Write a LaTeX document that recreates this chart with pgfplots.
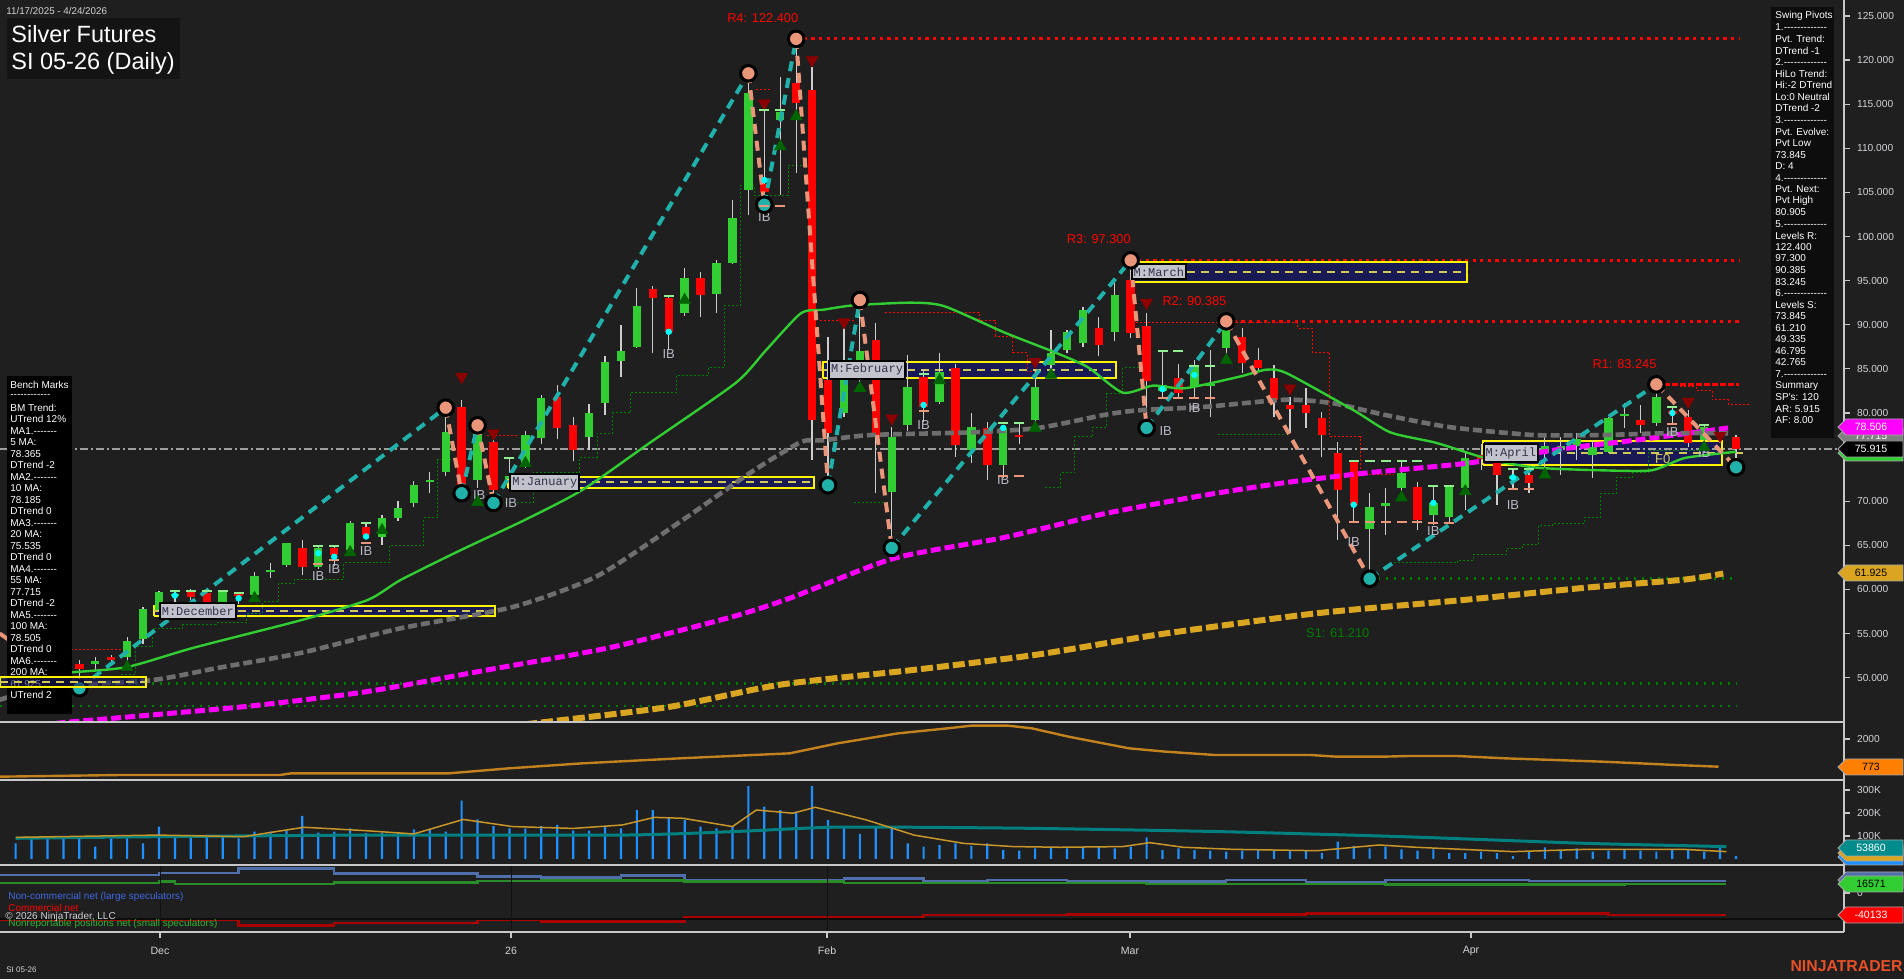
\documentclass[border=0pt]{standalone}
\usepackage{fontspec}
\setmainfont{Liberation Sans}[Ligatures=TeXOff]
\setmonofont{Liberation Mono}
\usepackage{pgfplots}
\pgfplotsset{compat=1.18}
\usepackage{pgfplotstable}

\definecolor{bg}{RGB}{31,31,31}
\definecolor{upc}{RGB}{50,205,50}
\definecolor{dnc}{RGB}{255,0,0}
\definecolor{wick}{RGB}{205,205,205}
\definecolor{ma20}{RGB}{50,205,50}
\definecolor{ma55}{RGB}{110,110,110}
\definecolor{ma100}{RGB}{255,0,255}
\definecolor{ma200}{RGB}{218,165,32}
\definecolor{pcyan}{RGB}{32,178,170}
\definecolor{psal}{RGB}{233,150,122}
\definecolor{rline}{RGB}{255,0,0}
\definecolor{sline}{RGB}{0,128,0}
\definecolor{boxfill}{RGB}{25,25,85}
\definecolor{boxdash}{RGB}{210,200,90}
\definecolor{tridn}{RGB}{139,0,0}
\definecolor{triup}{RGB}{0,100,0}
\definecolor{axisc}{RGB}{200,200,200}
\definecolor{txt}{RGB}{210,210,215}
\definecolor{ibc}{RGB}{185,185,200}
\definecolor{volc}{RGB}{30,144,255}
\definecolor{vavg}{RGB}{200,150,40}
\definecolor{tealv}{RGB}{0,128,128}
\definecolor{p2c}{RGB}{195,130,30}
\definecolor{cotb}{RGB}{80,110,170}
\definecolor{cotg}{RGB}{40,140,40}
\definecolor{cotr}{RGB}{170,0,0}
\definecolor{lgd}{RGB}{144,238,144}
\definecolor{lbl}{RGB}{195,195,205}
\definecolor{lbltxt}{RGB}{50,50,75}
\definecolor{cdot}{RGB}{0,255,255}
\definecolor{tagteal}{RGB}{0,140,140}

\pgfplotstableread{
i o h l c
2 49.6 50.5 49.0 50.2
3 50.2 51.0 49.5 50.8
5 51.6 52.3 50.9 51.7
7 52.3 54.6 51.5 54.2
8 54.4 58.0 53.8 57.8
9 57.7 59.8 57.5 59.7
10 59.2 59.9 58.4 59.4
13 58.0 59.9 57.8 59.7
15 59.4 62.0 59.0 61.5
16 62.0 63.0 61.3 62.1
17 62.8 65.3 62.5 65.3
19 62.5 64.9 62.3 64.7
21 64.5 67.8 64.3 67.5
23 65.9 68.4 65.0 68.1
24 68.1 70.0 67.8 69.2
25 69.8 72.3 69.3 71.8
26 72.2 73.3 70.9 72.4
27 73.3 80.6 72.8 77.8
29 72.4 78.6 71.5 77.7
31 72.5 74.9 71.3 72.8
32 74.3 78.0 73.8 77.5
33 77.2 82.0 76.5 81.7
36 77.3 81.0 75.8 80.0
37 81.1 86.5 79.8 85.8
38 85.9 90.0 84.1 87.0
39 87.5 94.2 87.4 92.1
42 91.3 96.4 91.0 95.3
44 93.5 97.3 91.3 97.0
45 97.0 104.1 96.9 102.1
46 105.3 118.5 102.4 116.3
48 113.2 118.1 104.7 114.1
52 80.0 89.8 79.5 83.7
53 84.0 92.8 83.0 87.0
55 71.0 78.4 64.7 77.3
56 78.6 86.6 78.0 82.9
58 81.2 86.8 81.0 84.6
60 75.8 80.0 74.3 78.4
62 74.1 78.5 72.6 78.3
64 79.2 84.9 78.0 82.9
65 85.4 89.4 84.1 86.8
66 87.1 89.4 86.8 89.2
67 87.9 92.0 87.5 91.7
69 89.2 94.7 88.1 93.4
72 82.5 86.9 81.8 83.2
74 82.9 86.0 81.8 85.2
75 83.0 87.1 79.5 83.2
76 87.4 90.4 86.5 90.0
85 66.9 70.9 61.2 69.3
86 69.5 71.5 66.2 69.7
87 71.5 74.7 70.9 73.2
89 68.4 71.8 67.3 69.8
90 68.2 71.8 67.5 71.6
91 71.5 75.6 69.0 74.9
94 72.5 73.5 71.3 72.8
96 75.5 77.3 73.5 76.2
97 76.0 77.3 73.0 76.2
98 76.3 77.7 74.7 77.0
99 75.2 76.9 72.6 76.1
100 75.6 79.5 75.5 79.4
101 79.6 81.1 78.3 79.9
103 78.9 83.2 78.5 81.8
106 76.9 78.7 75.5 78.4
}\upbars

\pgfplotstableread{
i o h l c
0 50.5 51.2 49.8 50.2
1 50.2 50.8 49.3 49.6
4 51.5 52.0 49.3 51.0
6 52.3 52.6 51.8 52.0
11 59.7 60.0 58.8 59.1
12 59.6 59.9 57.5 58.0
14 59.3 59.6 58.3 59.2
18 64.7 65.6 61.6 62.5
20 64.7 64.9 62.6 63.9
22 67.1 67.4 65.7 66.2
28 80.7 81.5 70.9 71.8
30 76.7 77.3 69.8 71.3
34 81.8 83.2 77.0 78.3
35 78.6 79.5 74.5 75.8
40 94.1 94.4 86.8 93.0
41 93.0 93.4 87.1 89.2
43 95.3 96.0 90.9 93.4
47 106.0 114.3 103.6 105.0
49 117.4 122.4 107.2 115.1
50 116.6 119.2 74.7 79.2
51 83.7 88.6 71.8 77.7
54 88.3 90.2 70.9 77.3
57 84.1 85.0 79.0 80.7
59 85.1 85.5 75.0 76.4
61 78.3 79.0 72.4 74.1
63 77.5 79.0 76.5 77.3
68 89.6 90.9 86.4 87.7
70 95.1 97.3 88.5 89.1
71 89.8 91.3 78.3 83.6
73 84.0 85.5 81.8 82.3
77 88.6 89.6 84.5 85.7
78 86.0 87.4 84.7 85.1
79 84.0 85.4 79.5 81.5
80 80.9 81.8 77.7 80.4
81 80.9 82.8 78.3 80.0
82 79.4 80.1 75.0 77.5
83 75.5 76.7 65.6 71.3
84 74.4 74.7 67.6 69.6
88 71.6 72.2 66.7 67.9
92 75.2 76.5 73.5 74.8
93 75.5 76.1 69.6 73.0
95 73.0 73.8 70.9 72.1
102 79.2 80.9 77.7 78.6
104 80.2 80.7 78.6 79.9
105 79.5 80.3 76.1 76.6
107 77.5 78.4 76.6 77.3
108 77.3 77.5 73.8 75.9
}\dnbars

\pgfplotstableread{
i v
0 68
1 90
2 94
3 90
4 97
5 54
6 90
7 94
8 68
9 141
10 97
11 104
12 97
13 97
14 90
15 119
16 119
17 123
18 187
19 115
20 119
21 133
22 112
23 115
24 112
25 129
26 126
27 119
28 254
29 172
30 143
31 133
32 133
33 143
34 148
35 123
36 123
37 141
38 133
39 213
40 213
41 181
42 170
43 141
44 133
45 141
46 317
47 228
48 213
49 206
50 317
51 170
52 141
53 109
54 141
55 141
56 68
57 54
58 61
59 68
60 57
61 68
62 39
63 36
64 46
65 54
66 46
67 54
68 54
69 46
70 54
71 94
72 39
73 46
74 39
75 36
76 32
77 36
78 39
79 36
80 36
81 39
82 27
83 75
84 57
85 46
86 54
87 42
88 36
89 42
90 25
91 25
92 32
93 25
94 13
95 32
96 51
97 36
98 46
99 32
100 36
101 39
102 36
103 32
104 39
105 42
106 32
107 54
108 13
}\vol

\pgfplotsset{
 panel/.style={scale only axis, width=922pt, anchor=south west, xmin=-0.98, xmax=114.78,
   axis x line=none, axis y line*=right, tick align=outside, major tick length=3pt,
   axis line style={draw=axisc, line width=0.6pt},
   tick style={draw=axisc, line width=0.6pt},
   yticklabel style={font=\fontsize{5.1}{6}\selectfont, text=txt},
   /pgf/number format/assume math mode=true, clip=true, scaled y ticks=false},
 sdot/.style={sline, line width=1.35pt, dash pattern=on 1.35pt off 2.65pt},
 rdot/.style={rline, line width=1.6pt, dash pattern=on 1.6pt off 2.2pt},
 trailg/.style={sline, line width=0.5pt, dash pattern=on 1pt off 1pt, const plot},
 trailr/.style={rline, line width=0.5pt, dash pattern=on 1pt off 1pt, const plot},
 mbox/.style={fill=boxfill, draw=yellow, line width=1pt},
 mdash/.style={boxdash, line width=1pt, dash pattern=on 4pt off 3pt},
 zzc/.style={pcyan, line width=2pt, dash pattern=on 5pt off 3.5pt},
 zzs/.style={psal, line width=2pt, dash pattern=on 5pt off 3.5pt},
 nomark/.style={only marks, mark=*, mark size=0pt, mark options={draw=none, fill=none}},
}
\tikzset{
 boxlabel/.style={fill=lbl, draw=black, line width=1pt, font=\ttfamily\fontsize{6}{6}\selectfont, text=lbltxt, inner xsep=1pt, inner ysep=1.6pt, anchor=west},
 iblab/.style={text=ibc, font=\fontsize{6.5}{7}\selectfont, inner sep=0pt},
 rlab/.style={text=rline, font=\fontsize{6.4}{7}\selectfont, inner sep=0pt},
}
\newcommand{\vtag}[4]{\filldraw[fill=#2, draw=gray!70, line width=0.4pt] (1838,#1) -- (1846,{#1-8}) -- (1903,{#1-8}) -- (1903,{#1+8}) -- (1846,{#1+8}) -- cycle;
 \node[text=#3, font=\fontsize{5.3}{6}\selectfont, inner sep=0pt] at (1871,#1) {#4};}

\begin{document}
\begin{tikzpicture}
\fill[bg] (0,0) rectangle (952pt,489.5pt);

% ================= MAIN PRICE PANEL =================
\begin{axis}[panel, at={(0pt,128.5pt)}, height=361pt, ymin=44.97, ymax=126.81,
  ytick={50,55,...,125},
  yticklabel style={/pgf/number format/fixed,/pgf/number format/fixed zerofill,/pgf/number format/precision=3}]

% support / resistance levels
\addplot[sdot] coordinates {(-1,49.335) (108,49.335)};
\addplot[sdot] coordinates {(-1,46.795) (108,46.795)};
\addplot[sdot] coordinates {(85,61.21) (108,61.21)};
\addplot[rdot] coordinates {(49,122.4) (108.2,122.4)};
\addplot[rdot] coordinates {(70,97.3) (108.2,97.3)};
\addplot[rdot] coordinates {(76,90.385) (108.2,90.385)};
\addplot[rline, line width=1.2pt, dash pattern=on 3pt off 1pt] coordinates {(103,83.245) (108.2,83.245)};

% monthly boxes
\addplot[mbox] coordinates {(8.7,56.99) (30.1,56.99) (30.1,58.12) (8.7,58.12) (8.7,56.99)};
\addplot[mdash] coordinates {(8.7,57.55) (30.1,57.55)};
\addplot[mbox] coordinates {(30.9,71.5) (50.1,71.5) (50.1,72.74) (30.9,72.74) (30.9,71.5)};
\addplot[mdash] coordinates {(30.9,72.12) (50.1,72.12)};
\addplot[mbox] coordinates {(50.7,83.97) (69.1,83.97) (69.1,85.8) (50.7,85.8) (50.7,83.97)};
\addplot[mdash] coordinates {(50.7,84.9) (69.1,84.9)};
\addplot[mbox] coordinates {(70.0,94.85) (91.1,94.85) (91.1,97.1) (70.0,97.1) (70.0,94.85)};
\addplot[mdash] coordinates {(70.0,96.0) (91.1,96.0)};
\addplot[mbox] coordinates {(92.1,74.1) (107.1,74.1) (107.1,76.8) (92.1,76.8) (92.1,74.1)};
\addplot[mdash] coordinates {(92.1,75.45) (108.5,75.45)};

% last price line
\addplot[gray!75, line width=0.75pt, dash pattern=on 4pt off 1.5pt on 1pt off 1.5pt] coordinates {(-1,75.915) (115,75.915)};

% trailing stops
\addplot[trailg] coordinates {(6.6,50.3) (7.5,53.5) (8.6,55.6) (10.5,56.0) (12.6,56.2) (14.5,57.3) (15.5,58.6) (16.5,60.7) (17.5,61.1) (20.6,63.0) (22.6,63.1) (23.5,65.0) (25.6,68.1) (26.5,74.7) (27.5,74.7)};
\addplot[trailg] coordinates {(30.7,69.9) (32.5,73.2) (35.4,75.0) (36.5,77.7) (37.5,80.0) (38.6,82.3) (41.5,84.3) (43.5,85.2) (44.5,92.2) (45.5,105.8) (46.4,104.7) (48.5,108.1) (49.7,108.1)};
\addplot[trailg] coordinates {(52.6,69.9) (54.8,69.9)};
\addplot[trailg] coordinates {(64.6,71.5) (65.6,73.2) (66.5,77.3) (67.6,78.4) (68.5,82.2) (69.5,85.1) (70.5,85.1)};
\addplot[trailg] coordinates {(75.5,77.6) (79.6,77.6)};
\addplot[trailg] coordinates {(86.5,63.0) (90.5,63.3) (91.5,64.0) (93.6,64.6) (94.6,65.1) (95.6,67.2) (96.5,67.5) (98.5,68.2) (99.5,70.9) (100.5,72.7) (101.5,73.2) (102.5,75.8) (105.7,75.8)};
\addplot[trailr] coordinates {(3.5,53.2) (7.0,53.2)};
\addplot[trailr] coordinates {(29.6,77.4) (31.5,77.4)};
\addplot[trailr] coordinates {(46.5,116.7) (47.5,116.7)};
\addplot[trailr] coordinates {(50.5,90.5) (52.6,90.5)};
\addplot[trailr] coordinates {(54.6,91.4) (60.5,90.5) (61.5,88.7) (62.6,86.8) (63.5,84.7) (64.3,84.7)};
\addplot[trailr] coordinates {(70.1,90.2) (80.5,89.6) (81.4,86.9) (82.5,77.3) (84.4,73.0) (86.5,73.0)};
\addplot[trailr] coordinates {(104.5,83.0) (105.5,82.6) (106.5,81.5) (107.5,81.0) (108.8,81.0)};

% candles: wicks
\addplot[nomark, error bars/.cd, y dir=plus, y explicit, error mark=none,
  error bar style={draw=wick, line width=0.6pt}] table[x=i, y=l, y error plus expr=\thisrow{h}-\thisrow{l}] {\upbars};
\addplot[nomark, error bars/.cd, y dir=plus, y explicit, error mark=none,
  error bar style={draw=wick, line width=0.6pt}] table[x=i, y=l, y error plus expr=\thisrow{h}-\thisrow{l}] {\dnbars};
% candles: bodies
\addplot[nomark, error bars/.cd, y dir=plus, y explicit, error mark=none,
  error bar style={draw=upc, line width=4.2pt}] table[x=i, y=o, y error plus expr={max(\thisrow{c}-\thisrow{o},0.25)}] {\upbars};
\addplot[nomark, error bars/.cd, y dir=plus, y explicit, error mark=none,
  error bar style={draw=dnc, line width=4.2pt}] table[x=i, y=c, y error plus expr={max(\thisrow{o}-\thisrow{c},0.25)}] {\dnbars};

% moving averages
\addplot[ma200, line width=3pt, dash pattern=on 6pt off 2pt, smooth, tension=0.4] coordinates {(25,43.3) (33.4,45.0) (41.1,46.7) (48,49.2) (56.5,50.9) (64.1,52.6) (71.8,54.9) (81.7,57.3) (90.9,58.8) (98.6,60.2) (104.7,61.1) (107.2,61.8)};
\addplot[ma100, line width=2.5pt, dash pattern=on 5pt off 2pt, smooth, tension=0.4] coordinates {(-1,44.2) (3.6,45.0) (14.3,46.7) (22,48.4) (29.7,50.9) (37.3,53.4) (44.8,56.8) (48.6,59.0) (55.1,63.5) (62.1,65.9) (68.4,68.6) (74.7,70.7) (79.7,72.1) (84.8,73.2) (91.1,74.3) (97.4,76.0) (101.6,76.9) (107.5,78.3)};
\addplot[ma55, line width=2.3pt, dash pattern=on 4.5pt off 2pt, smooth, tension=0.4] coordinates {(-1,47.5) (2.4,49.0) (8.5,49.7) (12.7,51.1) (17.9,52.8) (24.2,55.6) (31.2,58.0) (36.5,61.5) (41.9,67.9) (46.1,73.2) (49.3,76.7) (50.7,76.9) (53.7,77.5) (60,77.8) (64.2,78.3) (68.4,79.8) (70.5,80.3) (74.7,80.7) (79.7,81.5) (82.7,81.1) (85.9,79.8) (90,78.4) (95.3,77.5) (99.5,77.5) (103.7,77.7) (107.5,77.7)};
\addplot[ma20, line width=1.2pt, smooth, tension=0.4] coordinates {(-1,50.0) (3.5,50.6) (7,51.2) (11.2,53.4) (17.9,56.5) (22.1,58.8) (24.2,61.1) (28,64.5) (32,67.9) (35.6,71.3) (39.8,76.6) (45.2,83.4) (47.1,87.1) (49.3,91.3) (50.7,91.7) (52.6,92.2) (56.2,92.5) (58.3,92.1) (62.1,89.1) (65.2,86.9) (67.3,85.2) (69.5,82.3) (71.4,83.1) (73.4,82.8) (76.8,84.1) (78.5,84.9) (79.8,84.5) (84,80.3) (86.3,77.8) (89.2,76.6) (92.6,74.7) (95.5,73.8) (99.5,73.5) (102.7,73.5) (104.8,74.9) (108,75.6)};

% swing pivot zigzag
\addplot[zzs] coordinates {(-1,55.0) (4,48.8)};
\addplot[zzc] coordinates {(4,48.8) (27,80.6)};
\addplot[zzs] coordinates {(27,80.6) (28,70.9)};
\addplot[zzc] coordinates {(28,70.9) (29,78.6)};
\addplot[zzs] coordinates {(29,78.6) (30,69.8)};
\addplot[zzc] coordinates {(30,69.8) (46,118.5)};
\addplot[zzs] coordinates {(46,118.5) (47,103.6)};
\addplot[zzc] coordinates {(47,103.6) (49,122.4)};
\addplot[zzs] coordinates {(49,122.4) (51,71.8)};
\addplot[zzc] coordinates {(51,71.8) (53,92.8)};
\addplot[zzs] coordinates {(53,92.8) (55,64.7)};
\addplot[zzc] coordinates {(55,64.7) (70,97.3)};
\addplot[zzs] coordinates {(70,97.3) (71,78.3)};
\addplot[zzc] coordinates {(71,78.3) (76,90.385)};
\addplot[zzs] coordinates {(76,90.385) (85,61.21)};
\addplot[zzc] coordinates {(85,61.21) (103,83.245)};
\addplot[zzs] coordinates {(103,83.245) (108,73.845)};

% pivot circles
\addplot[only marks, mark=*, mark size=3.9pt, mark options={fill=psal, draw=black, line width=1.5pt}] coordinates {(27,80.6) (29,78.6) (46,118.5) (49,122.4) (53,92.8) (70,97.3) (76,90.385) (103,83.245)};
\addplot[only marks, mark=*, mark size=3.9pt, mark options={fill=pcyan, draw=black, line width=1.5pt}] coordinates {(4,48.8) (28,70.9) (30,69.8) (47,103.6) (51,71.8) (55,64.7) (71,78.3) (85,61.21) (108,73.845)};

% signal triangles
\addplot[only marks, mark=triangle*, mark size=3.3pt, mark options={fill=tridn, draw=tridn, rotate=180}] coordinates {(28,84.1) (30,77.7) (47,115.1) (50,120.0) (52,90.3) (55,79.4) (64,85.8) (71,92.5) (80,82.8) (105,81.3) (107,77.4)};
\addplot[only marks, mark=triangle*, mark size=3.3pt, mark options={fill=triup, draw=triup}] coordinates {(7,51.2) (15,59.0) (21,64.2) (23,66.7) (29,69.9) (32,74.3) (42,92.8) (48,110.2) (49,113.6) (53,82.8) (58,83.7) (64,78.3) (65,84.3) (76,86.0) (87,70.4) (91,71.1) (96,73.0) (106,76.1)};

% inside-bar markers
\addplot[only marks, mark=-, mark size=2.5pt, mark options={draw=lgd, line width=1pt}] coordinates {(10,59.8) (11,59.8) (12,59.8) (13,59.8) (14,59.6) (19,64.9) (20,64.9) (22,67.5) (31,74.9) (41,93.3) (47,114.3) (48,114.3) (57,84.4) (62,78.9) (63,78.9) (72,87.0) (73,87.0) (74,85.3) (75,85.3) (84,74.5) (85,74.5) (86,74.5) (87,74.5) (88,74.5) (89,71.7) (90,71.7) (94,73.6) (95,73.6) (104,80.7) (106,78.6)};
\addplot[only marks, mark=-, mark size=2.5pt, mark options={draw=psal, line width=1pt}] coordinates {(19,62.9) (20,63.3) (22,65.3) (47,103.5) (48,103.5) (57,80.2) (62,72.9) (63,72.9) (72,81.7) (73,81.7) (74,81.7) (75,81.7) (84,67.6) (85,67.6) (86,67.6) (87,67.6) (88,67.6) (89,67.5) (90,67.5) (94,71.4) (95,71.4) (104,78.7)};
\addplot[only marks, mark=*, mark size=1.4pt, mark options={fill=cdot, draw=cdot}] coordinates {(10,59.3) (14,59.0) (19,64.1) (20,63.7) (22,66.0) (41,89.2) (47,106.4) (57,80.9) (62,78.3) (72,82.7) (74,84.3) (84,69.6) (89,69.8) (94,72.7) (104,80.0)};

% labels
\node[rlab] at (axis cs:46.9,124.8) {R4: 122.400};
\node[rlab] at (axis cs:68.0,99.7) {R3: 97.300};
\node[rlab] at (axis cs:74.0,92.7) {R2: 90.385};
\node[rlab] at (axis cs:101.0,85.55) {R1: 83.245};
\node[rlab, text=sline] at (axis cs:83.0,55.06) {S1: 61.210};
\node[boxlabel] at (axis cs:8.99,57.55) {M:December};
\node[boxlabel] at (axis cs:31.0,72.12) {M:January};
\node[boxlabel] at (axis cs:51.0,84.9) {M:February};
\node[boxlabel] at (axis cs:70.0,96.0) {M:March};
\node[boxlabel] at (axis cs:92.1,75.45) {M:April};
\node[iblab, text=boxdash] at (axis cs:103.4,74.8) {F0};
\node[iblab] at (axis cs:19,61.5) {IB};
\node[iblab] at (axis cs:20,62.3) {IB};
\node[iblab] at (axis cs:22,64.3) {IB};
\node[iblab] at (axis cs:29.1,70.7) {IB};
\node[iblab] at (axis cs:31.1,69.8) {IB};
\node[iblab] at (axis cs:41,86.7) {IB};
\node[iblab] at (axis cs:47,102.2) {IB};
\node[iblab] at (axis cs:57,78.6) {IB};
\node[iblab] at (axis cs:62,72.4) {IB};
\node[iblab] at (axis cs:72.2,78.0) {IB};
\node[iblab] at (axis cs:74,80.6) {IB};
\node[iblab] at (axis cs:84,65.4) {IB};
\node[iblab] at (axis cs:89,66.6) {IB};
\node[iblab] at (axis cs:94,69.6) {IB};
\node[iblab] at (axis cs:104,77.8) {IB};
\node[iblab] at (axis cs:106,75.5) {IB};
\end{axis}

% ================= PANEL 2 =================
\begin{axis}[panel, at={(0pt,99.5pt)}, height=29pt, ymin=204, ymax=2745, ytick={2000}, yticklabels={2000}]
\addplot[p2c, line width=1.2pt] coordinates {(-1,349) (6.6,423) (16.6,423) (17.3,496) (27.2,496) (31,716) (35.6,935) (41.7,1153) (46.3,1299) (48.6,1372) (51.6,1810) (55.4,2248) (58.5,2467) (60,2584) (62.3,2584) (63.8,2467) (66.1,2102) (69.9,1591) (72.2,1445) (75.3,1299) (81.3,1299) (82.9,1226) (85.9,1226) (87.4,1255) (90.5,1255) (93.5,1153) (96.6,1080) (99.6,1007) (101.9,935) (104.2,861) (106.9,787)};
\end{axis}

% ================= PANEL 3 (volume) =================
\begin{axis}[panel, at={(0pt,57pt)}, height=42.5pt, ymin=-26.1, ymax=343.5, ytick={100,200,300}, yticklabels={100K,200K,300K}]
\addplot[ybar, bar width=1.1pt, fill=volc, draw=none] table[x=i, y=v] {\vol};
\addplot[tealv, line width=1.5pt, smooth, tension=0.4] coordinates {(0,90) (8.9,97) (22,104) (38.1,104) (45,119) (51.1,138) (56.4,138) (64.1,133) (75.6,119) (87.1,97) (98.6,68) (107.4,54)};
\addplot[vavg, line width=0.75pt] coordinates {(0,94) (8.9,104) (14.3,97) (18.1,138) (22,123) (25,109) (28.1,172) (31.2,141) (35,133) (38.1,148) (40.1,181) (41.9,177) (45,141) (46.5,213) (48.8,199) (50.2,225) (53.4,170) (56.4,104) (59.5,68) (62.6,54) (65.6,51) (69.5,54) (71.2,71) (73.3,51) (76.4,42) (81.7,36) (85.6,61) (87.9,51) (94,32) (98.6,42) (104.7,42) (107.4,32)};
\end{axis}

% ================= PANEL 4 (COT) =================
\begin{axis}[panel, at={(0pt,23.5pt)}, height=33.5pt, ymin=-71.1, ymax=51.1, ytick={0}, yticklabels={0}]
\addplot[cotb, line width=1.2pt, const plot] coordinates {(-1,32.8) (9,37) (14,44.4) (20,35.9) (29,29.8) (33,28) (38,32.2) (42,23.7) (52,26.7) (57,21.9) (61,23.7) (66,20.7) (76,23.7) (81,19.5) (86,23.7) (95,21.9) (107.4,21.9)};
\addplot[cotg, line width=1.2pt, const plot] coordinates {(-1,18.8) (9,20.7) (10,16.4) (20,19.5) (29,21.9) (33,22.5) (42,20.7) (52,18.8) (71,16.4) (86,15.2) (101,16.6) (107.4,16.6)};
\addplot[cotr, line width=1.2pt, const plot] coordinates {(-1,-49) (14,-59.6) (20,-54.2) (29,-49.2) (33,-52.3) (42,-45) (52,-43.2) (57,-40.1) (66,-38.9) (81,-37.1) (100,-40.1) (107.4,-40.1)};
\end{axis}

% ================= OVERLAY (pixel coordinates) =================
\begin{scope}[shift={(0pt,489.5pt)}, x=0.5pt, y=-0.5pt]
% separators
\draw[axisc, line width=0.75pt] (0,722) -- (1844,722);
\draw[axisc, line width=0.75pt] (0,780) -- (1844,780);
\draw[axisc, line width=0.75pt] (0,865) -- (1844,865);
\draw[axisc, line width=0.75pt] (0,932) -- (1844,932);
\draw[axisc, line width=0.6pt] (1844,0) -- (1844,932);
\draw[black!60!bg, line width=0.5pt] (0,919) -- (1844,919);
\foreach \xx in {160,511,827} \draw[black!45!bg, line width=0.4pt] (\xx,866) -- (\xx,931);
% x ticks and labels
\foreach \xx/\lab in {160/Dec,511/26,827/Feb,1130/Mar,1471/Apr} {
  \draw[axisc, line width=0.6pt] (\xx,932) -- (\xx,938);
  \node[text=txt, font=\fontsize{5.3}{6}\selectfont, inner sep=0pt] at (\xx,951) {\lab};
}
\node[anchor=west, text=txt, font=\fontsize{4}{5}\selectfont, inner sep=0pt] at (6,970) {SI 05-26};
\node[anchor=east, text={rgb,255:red,232;green,80;blue,40}, font=\bfseries\fontsize{7.9}{8}\selectfont, inner sep=0pt] at (1903,966) {NINJATRADER};

% title
\node[anchor=west, text=txt, font=\fontsize{4.9}{5}\selectfont, inner sep=0pt] at (6,11) {11/17/2025 - 4/24/2026};
\fill[black!92!white] (7,18) rectangle (180,79);
\node[anchor=west, text=white, font=\fontsize{11.75}{12}\selectfont, inner sep=0pt] at (11,34) {Silver Futures};
\node[anchor=west, text=white, font=\fontsize{11.75}{12}\selectfont, inner sep=0pt] at (11,63) {SI 05-26 (Daily)};

% COT legend
\node[anchor=west, text={rgb,255:red,65;green,105;blue,225}, font=\fontsize{5}{6}\selectfont, inner sep=0pt] at (8,897) {Non-commercial net (large speculators)};
\node[anchor=west, text=red, font=\fontsize{5}{6}\selectfont, inner sep=0pt] at (8,908) {Commercial net};
\node[anchor=west, text={rgb,255:red,50;green,180;blue,50}, font=\fontsize{5}{6}\selectfont, inner sep=0pt] at (8,924) {Nonreportable positions net (small speculators)};
\node[anchor=west, text=txt, font=\fontsize{5}{6}\selectfont, inner sep=0pt] at (5,917) {\textcopyright\ 2026 NinjaTrader, LLC};

% left benchmark panel
\fill[black] (7,376) rectangle (72,714);
\foreach \t [count=\n from 0] in {Bench Marks,------------,BM Trend:,UTrend 12\%,MA1.-------,5 MA:,78.365,DTrend -2,MA2.-------,10 MA:,78.185,DTrend 0,MA3.-------,20 MA:,75.535,DTrend 0,MA4.-------,55 MA:,77.715,DTrend -2,MA5.-------,100 MA:,78.505,DTrend 0,MA6.-------,200 MA:,61.925,UTrend 2}
  \node[anchor=west, text=white, font=\fontsize{5}{6}\selectfont, inner sep=0pt] at (10,{384.7+11.5*\n}) {\t};
% november box over the panel
\fill[boxfill, opacity=0.6] (0,677) rectangle (146,687);
\draw[yellow, line width=1pt] (0,677) rectangle (146,687);
\draw[boxdash, line width=1pt, dash pattern=on 4pt off 3pt] (0,682) -- (146,682);

% right swing pivots panel
\fill[black!95!white] (1771,7) rectangle (1834,438);
\foreach \t [count=\n from 0] in {Swing Pivots,1.-------------,Pvt. Trend:,DTrend -1,2.-------------,HiLo Trend:,Hi:-2 DTrend,Lo:0 Neutral,DTrend -2,3.-------------,Pvt. Evolve:,Pvt Low,73.845,D: 4,4.-------------,Pvt. Next:,Pvt High,80.905,5.-------------,Levels R:,122.400,97.300,90.385,83.245,6.-------------,Levels S:,73.845,61.210,49.335,46.795,42.765,7.-------------,Summary,SP's: 120,AR: 5.915,AF: 8.00}
  \node[anchor=west, text=white, font=\fontsize{5}{6}\selectfont, inner sep=0pt] at (1775,{16+11.55*\n}) {\t};

% value tags
\vtag{436}{gray}{white}{77.715}
\vtag{453}{upc}{black}{}
\vtag{427}{ma100}{white}{78.506}
\vtag{449}{black}{white}{75.915}
\vtag{573}{ma200}{black}{61.925}
\vtag{767}{orange}{black}{773}
\vtag{857}{volc}{white}{}
\vtag{853}{ma200}{black}{}
\vtag{848}{tagteal}{white}{53860}
\vtag{880}{cotb}{white}{}
\vtag{884}{upc}{black}{16571}
\vtag{915}{red}{white}{-40133}
\end{scope}

\pgfresetboundingbox
\useasboundingbox (0,0) rectangle (952pt,489.5pt);
\end{tikzpicture}
\end{document}
